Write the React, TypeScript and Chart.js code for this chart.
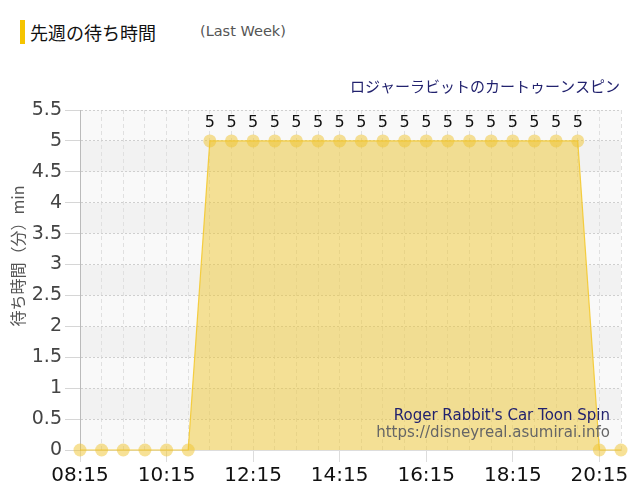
import React, { useEffect, useRef } from 'react';
import { Chart, registerables } from 'chart.js';

Chart.register(...registerables);

const FONT = "'DejaVu Sans', 'Noto Sans CJK JP', sans-serif";
const JP_FONT = "'Noto Sans CJK JP', 'DejaVu Sans', sans-serif";

// half-hour slots of last week
const times = [
  '08:15', '08:45', '09:15', '09:45', '10:15', '10:45', '11:15', '11:45', '12:15',
  '12:45', '13:15', '13:45', '14:15', '14:45', '15:15', '15:45', '16:15', '16:45',
  '17:15', '17:45', '18:15', '18:45', '19:15', '19:45', '20:15', '20:45',
];
const waits = [
  0, 0, 0, 0, 0, 0, 5, 5, 5,
  5, 5, 5, 5, 5, 5, 5, 5, 5,
  5, 5, 5, 5, 5, 5, 0, 0,
];

const chartTitle = 'ロジャーラビットのカートゥーンスピン';
const yTitle = '待ち時間（分）min';
const creditName = "Roger Rabbit's Car Toon Spin";
const creditUrl = 'https://disneyreal.asumirai.info';

// alternating horizontal bands behind the grid
const bandPlugin = {
  id: 'bands',
  beforeDraw(chart: any) {
    const { ctx, chartArea, scales } = chart;
    const y = scales.y;
    ctx.save();
    for (let i = 0; i < 11; i++) {
      const top = y.getPixelForValue((i + 1) * 0.5);
      const bottom = y.getPixelForValue(i * 0.5);
      ctx.fillStyle = i % 2 === 0 ? '#f9f9f9' : '#f2f2f2';
      ctx.fillRect(chartArea.left, top, chartArea.right - chartArea.left, bottom - top);
    }
    ctx.restore();
  },
};

// value labels, titles and credit
const textPlugin = {
  id: 'texts',
  afterDatasetsDraw(chart: any) {
    const { ctx, chartArea } = chart;
    const meta = chart.getDatasetMeta(0);
    ctx.save();
    ctx.font = `16px ${FONT}`;
    ctx.fillStyle = '#111';
    ctx.textAlign = 'center';
    ctx.textBaseline = 'middle';
    meta.data.forEach((pt: any, i: number) => {
      if (waits[i] > 0) ctx.fillText(String(waits[i]), pt.x, pt.y - 18);
    });

    ctx.textAlign = 'right';
    ctx.textBaseline = 'alphabetic';
    ctx.font = `15px ${FONT}`;
    ctx.fillStyle = '#22226e';
    ctx.fillText(creditName, chartArea.right - 11, 420);
    ctx.fillStyle = '#666';
    ctx.fillText(creditUrl, chartArea.right - 11, 437);

    ctx.font = `15px ${JP_FONT}`;
    ctx.fillStyle = '#22226e';
    ctx.fillText(chartTitle, chartArea.right - 1, 92);

    ctx.translate(18, 256);
    ctx.rotate(-Math.PI / 2);
    ctx.textAlign = 'center';
    ctx.textBaseline = 'middle';
    ctx.font = `16px ${JP_FONT}`;
    ctx.fillStyle = '#555';
    ctx.fillText(yTitle, 0, 0);
    ctx.restore();
  },
};

const WaitChart: React.FC = () => {
  const canvasRef = useRef<HTMLCanvasElement>(null);
  const chartInstance = useRef<Chart>();

  useEffect(() => {
    if (!canvasRef.current) return;
    Chart.defaults.font.family = FONT;
    chartInstance.current = new Chart(canvasRef.current, {
      type: 'line',
      data: {
        labels: times,
        datasets: [
          {
            data: waits,
            clip: false,
            borderColor: 'rgba(245, 200, 40, 0.85)',
            borderWidth: 1.2,
            backgroundColor: 'rgba(240, 200, 50, 0.5)',
            fill: 'origin',
            tension: 0,
            pointRadius: 6.5,
            pointHoverRadius: 6.5,
            pointBorderWidth: 0,
            pointBackgroundColor: 'rgba(240, 195, 45, 0.5)',
          },
        ],
      },
      options: {
        responsive: false,
        animation: false,
        layout: { padding: { top: 110, right: 19, left: 0, bottom: 0 } },
        plugins: {
          legend: { display: false },
          tooltip: { enabled: false },
        },
        scales: {
          x: {
            afterFit: (s: any) => { s.height = 50; },
            border: { color: '#ddd', dash: [4, 3] },
            grid: {
              color: '#e0e0e0',
              tickLength: 12,
              tickBorderDash: [],
              tickColor: (c: any) => (c.index % 4 === 0 ? '#ddd' : 'rgba(0,0,0,0)'),
            },
            ticks: {
              autoSkip: false,
              maxRotation: 0,
              padding: 2,
              color: '#111',
              font: { size: 20 },
              callback: (_v: any, i: number) => (i % 4 === 0 ? times[i] : ''),
            },
          },
          y: {
            min: 0,
            max: 5.5,
            afterFit: (s: any) => { s.width = 80; },
            border: { color: '#bbb', dash: [2, 2] },
            grid: {
              color: '#cfcfcf',
              tickLength: 15,
              tickBorderDash: [],
              tickColor: '#d6d6d6',
            },
            ticks: {
              stepSize: 0.5,
              padding: 3,
              color: '#444',
              font: { size: 19 },
              callback: (v: any) => String(Number(v)),
            },
          },
        },
      },
      plugins: [bandPlugin, textPlugin],
    });
    return () => {
      chartInstance.current?.destroy();
    };
  }, []);

  return <canvas ref={canvasRef} width={640} height={500} />;
};

export default function App() {
  return (
    <div style={{ position: 'fixed', left: 0, top: 0, width: 640, height: 500, background: '#fff' }}>
      <div style={{ position: 'absolute', left: 20, top: 20, width: 5, height: 24, background: '#f5c400' }} />
      <div style={{ position: 'absolute', left: 30, top: 19, fontFamily: JP_FONT, fontSize: 18, color: '#111', lineHeight: '26px' }}>
        先週の待ち時間
      </div>
      <div style={{ position: 'absolute', left: 200, top: 21, fontFamily: FONT, fontSize: 14.5, color: '#555', lineHeight: '20px' }}>
        (Last Week)
      </div>
      <div style={{ position: 'absolute', left: 0, top: 0 }}>
        <WaitChart />
      </div>
    </div>
  );
}
